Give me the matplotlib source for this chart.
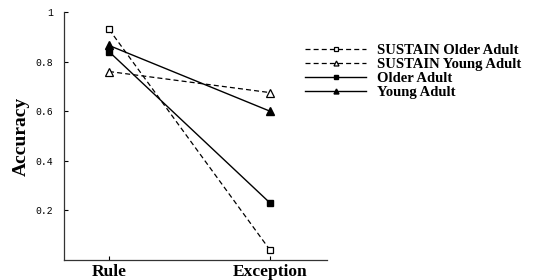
import matplotlib
matplotlib.use("Agg")
import matplotlib.pyplot as plt

# data
conditions = ["Rule", "Exception"]
sustain_older = [0.93, 0.04]
sustain_young = [0.76, 0.675]
older_adult = [0.84, 0.23]
young_adult = [0.865, 0.60]
y_ticks = [0.2, 0.4, 0.6, 0.8, 1.0]
y_tick_labels = ["0.2", "0.4", "0.6", "0.8", "1"]

serif = ["Liberation Serif", "DejaVu Serif"]
mono = ["Liberation Mono", "DejaVu Sans Mono"]

fig = plt.figure(figsize=(5.52, 2.8), dpi=100)
ax = fig.add_axes([64 / 552, 20 / 280, (327 - 64) / 552, (260 - 12) / 280])

x = [1, 2]
ax.plot(x, sustain_older, color="black", lw=0.9, ls=(0, (4, 2.5)), marker="s",
        ms=5, mfc="white", mec="black", mew=0.9, label="SUSTAIN Older Adult")
ax.plot(x, sustain_young, color="black", lw=0.9, ls=(0, (4, 2.5)), marker="^",
        ms=5.5, mfc="white", mec="black", mew=0.9, label="SUSTAIN Young Adult")
ax.plot(x, older_adult, color="black", lw=1.0, marker="s",
        ms=5, mfc="black", mec="black", label="Older Adult")
ax.plot(x, young_adult, color="black", lw=1.0, marker="^",
        ms=5.5, mfc="black", mec="black", label="Young Adult")

ax.set_xlim(0.72, 2.354)
ax.set_ylim(0, 1)
ax.set_xticks(x)
ax.set_xticklabels(conditions, family=serif, fontweight="bold", fontsize=12.5)
ax.set_yticks(y_ticks)
ax.set_yticklabels(y_tick_labels, family=mono, fontsize=7)
ax.tick_params(axis="y", direction="in", length=3, width=0.8, pad=8)
ax.tick_params(axis="x", direction="in", length=3, width=0.8, pad=3)
ax.set_ylabel("Accuracy", family=serif, fontweight="bold", fontsize=14, labelpad=4)

for side in ["top", "right"]:
    ax.spines[side].set_visible(False)
for side in ["left", "bottom"]:
    ax.spines[side].set_linewidth(0.9)
    ax.spines[side].set_color("#333333")

leg = fig.legend(loc="upper left", bbox_to_anchor=(292 / 552, 1 - 31 / 280),
                 frameon=False, handlelength=4.2, handletextpad=0.75, markerscale=0.65,
                 borderpad=0.4, labelspacing=0.05,
                 prop={"family": serif, "weight": "bold", "size": 10.5})

fig.savefig("out.png", dpi=100)
